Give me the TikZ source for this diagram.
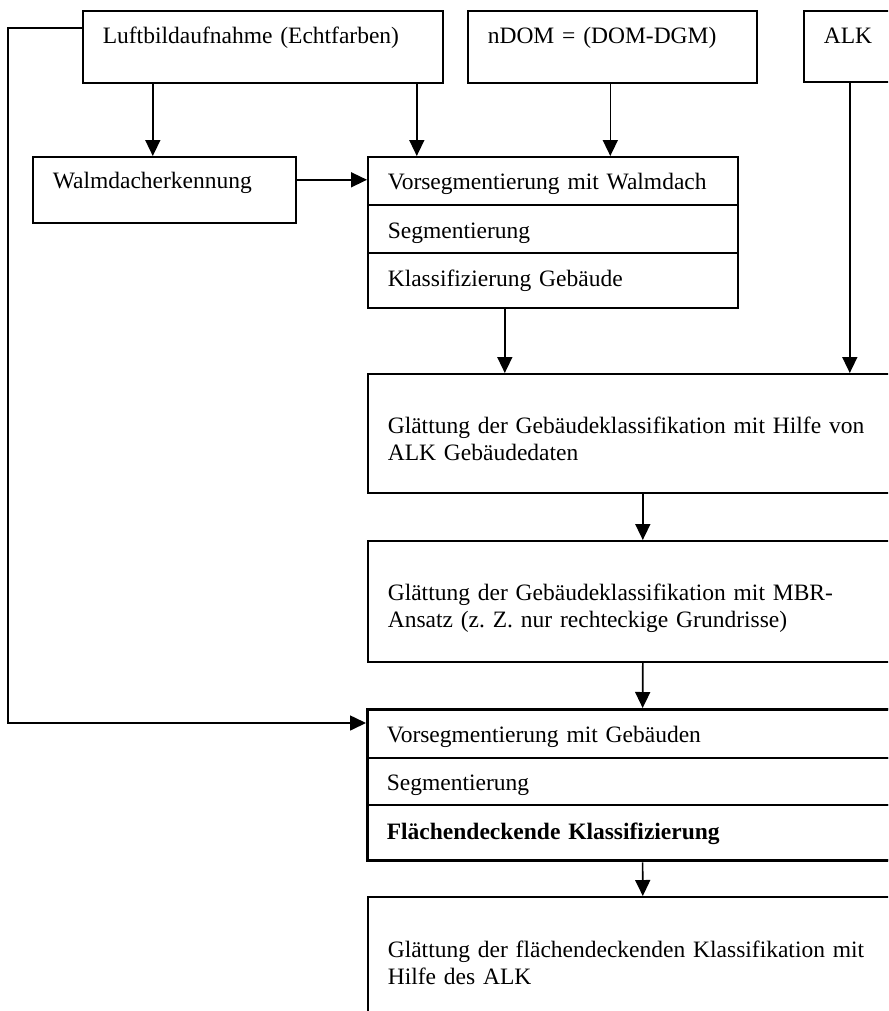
\documentclass[tikz,border=0pt]{standalone}
\usepackage{fontspec}
\setmainfont{Liberation Serif}
\usetikzlibrary{arrows.meta,positioning,calc}
\frenchspacing

\begin{document}
\begin{tikzpicture}[x=0.5pt,y=-0.5pt,
    >={Triangle[length=8pt,width=7.5pt]},
    blk/.style={draw,line width=0.8pt,anchor=north west,inner xsep=10pt,inner ysep=0pt,
        align=left,font=\fontsize{11.75}{13.5}\selectfont},
    link/.style={->,line width=0.8pt}]
    \useasboundingbox (0,0) rectangle (888,1011);
    \clip (0,0) rectangle (888,1011);

    % Eingangsdaten
    \node[blk,text width=160pt,text height=16.5pt,text depth=19.5pt] (luft) at (82,10) {Luftbildaufnahme (Echtfarben)};
    \node[blk,text width=124.5pt,text height=16.5pt,text depth=19.5pt] (ndom) at (467,10) {nDOM = (DOM-DGM)};
    \node[blk,text width=26pt,text height=16.5pt,text depth=19pt] (alk) at (803,10) {ALK};

    % Walmdach
    \node[blk,text width=111.5pt,text height=16pt,text depth=17pt] (walm) at (32,156) {Walmdacherkennung};
    \node[blk,text width=165pt,text height=16.5pt,text depth=7.5pt] (vora) at (367,156) {Vorsegmentierung mit Walmdach};
    \node[blk,text width=165pt,text height=17pt,text depth=7pt] (vorb) at (367,204) {Segmentierung};
    \node[blk,text width=165pt,text height=17pt,text depth=10.5pt] (vorc) at (367,252) {Klassifizierung Gebäude};

    % Glaettung
    \node[blk,text width=255pt,text height=30pt,text depth=29.5pt] (gla) at (367,373)
        {Glättung der Gebäudeklassifikation mit Hilfe von\\ALK Gebäudedaten};
    \node[blk,text width=255pt,text height=30pt,text depth=30.5pt] (glb) at (367,540)
        {Glättung der Gebäudeklassifikation mit MBR-\\Ansatz (z. Z. nur rechteckige Grundrisse)};

    % Flaechendeckende Klassifizierung
    \node[blk,text width=255pt,text height=17pt,text depth=7.5pt] (klsa) at (366,708) {Vorsegmentierung mit Gebäuden};
    \node[blk,text width=255pt,text height=16.5pt,text depth=7pt] (klsb) at (366,757) {Segmentierung};
    \node[blk,text width=255pt,text height=17.5pt,text depth=10pt] (klsc) at (366,804) {\bfseries Flächendeckende Klassifizierung};
    \node[draw,line width=1.65pt,anchor=north west,minimum width=275pt,minimum height=75.5pt] (kls) at (366,708) {};

    \node[blk,text width=255pt,text height=30.5pt,text depth=69.5pt] (glc) at (367,896)
        {Glättung der flächendeckenden Klassifikation mit\\Hilfe des ALK};

    % Verbindungen
    \coordinate (back) at (8,723);
    \draw[link] ([yshift=9.5pt]luft.west) -| (back) -- (back -| kls.west);
    \draw[link] ([xshift=-55pt]luft.south) -- ([xshift=-55pt]luft.south |- walm.north);
    \draw[link] ([xshift=77pt]luft.south) -- ([xshift=77pt]luft.south |- vora.north);
    \draw[link] ([xshift=-1pt]ndom.south) -- ([xshift=-1pt]ndom.south |- vora.north);
    \draw[link] ([yshift=5pt]walm.east) -- ([yshift=5pt]walm.east -| vora.west);
    \draw[link] ([xshift=-24pt]vorc.south) -- ([xshift=-24pt]vorc.south |- gla.north);
    \draw[link] (alk.south) -- (alk.south |- gla.north);
    \draw[link] (gla.south) -- (glb.north);
    \draw[link] (glb.south) -- (kls.north);
    \draw[link] (kls.south) -- (glc.north);
\end{tikzpicture}
\end{document}
